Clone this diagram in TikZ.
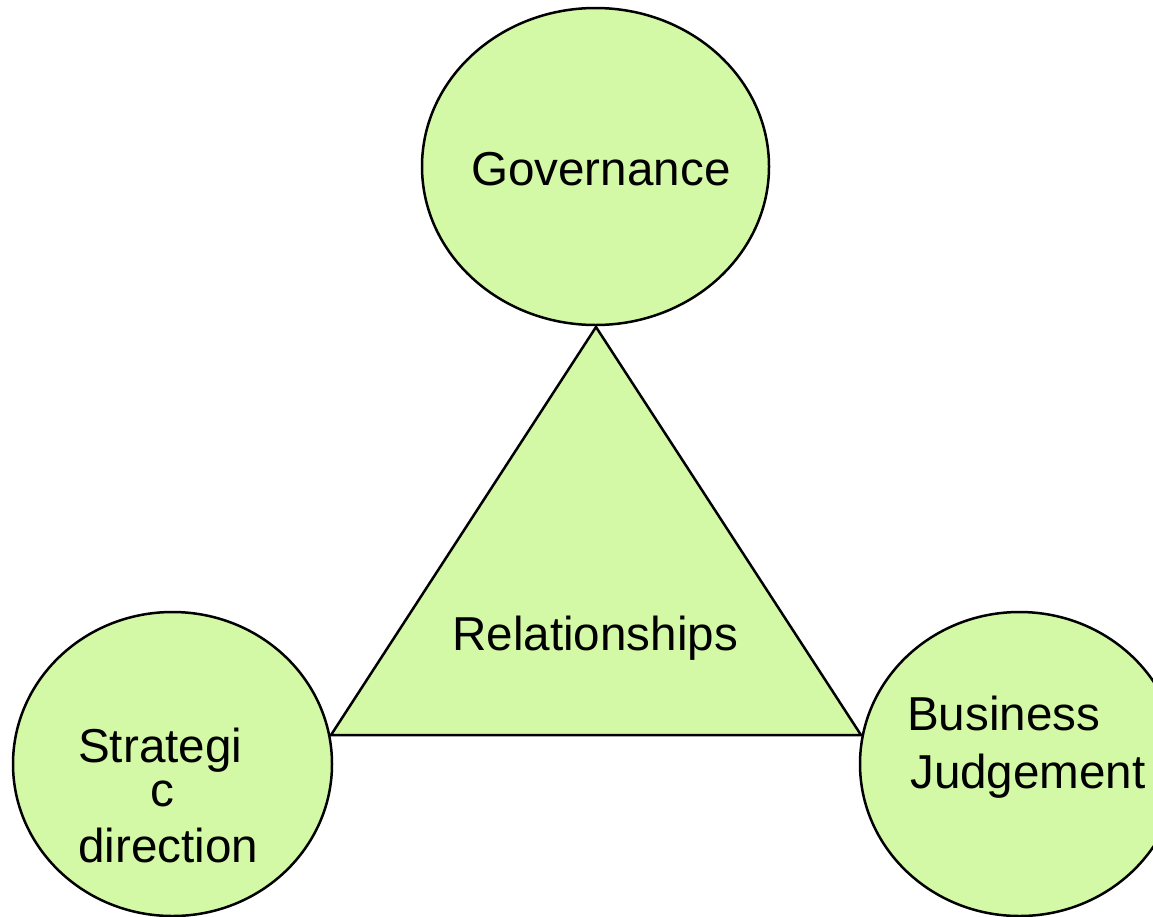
\documentclass[tikz,border=0pt]{standalone}
\usepackage{fontspec}
\setmainfont{Liberation Sans}
\usetikzlibrary{shapes.geometric}
\definecolor{leaf}{RGB}{212,249,166}
\tikzset{
  bubble/.style={ellipse, draw=black, fill=leaf, line width=2.5pt, inner sep=0pt},
  lbl/.style={anchor=base west, inner sep=0pt, font=\fontsize{47.6}{56}\selectfont},
  tri/.style={draw=black, fill=leaf, line width=2.5pt, line join=miter}
}
\begin{document}
\begin{tikzpicture}[x=1pt,y=-1pt]
\useasboundingbox (0,0) rectangle (1153,916);
% triangle
\coordinate (apex) at (596,327);
\coordinate (bl) at (331,735);
\coordinate (br) at (861,735);
\draw[tri] (apex) -- (bl) -- (br) -- cycle;
% ellipses
\node[bubble, minimum width=347pt, minimum height=317pt] (gov) at (595.5,166.5) {};
\node[bubble, minimum width=319pt, minimum height=304pt] (str) at (172.5,764) {};
\node[bubble, minimum width=319pt, minimum height=304pt] (bus) at (1019.5,764) {};
% labels
\node[lbl] (tgov) at (471,185) {Governance};
\node[lbl] (trel) at (452,650) {Relationships};
\node[lbl] (ts1) at (78,762) {Strategi};
\node[lbl] (ts2) at (150,806) {c};
\node[lbl] (ts3) at (78,862) {direction};
\node[lbl] (tb1) at (907,730) {Business};
\node[lbl] (tb2) at (910,788) {Judgement};
\end{tikzpicture}
\end{document}
